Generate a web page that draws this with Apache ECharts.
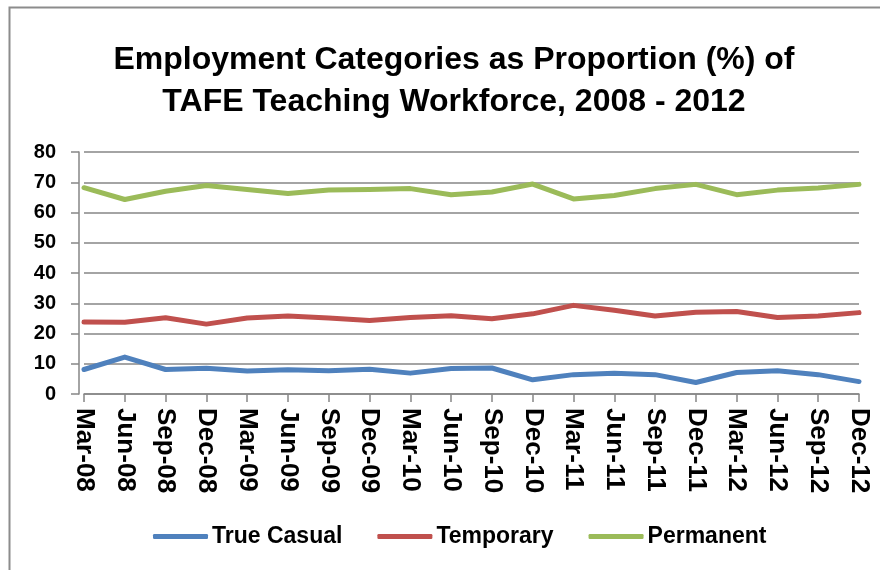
<!DOCTYPE html>
<html>
<head>
<meta charset="utf-8">
<script src="https://cdn.jsdelivr.net/npm/echarts@6/dist/echarts.min.js"></script>
<style>
  html, body { margin: 0; padding: 0; background: #fff; }
  #chart { width: 880px; height: 570px; }
</style>
</head>
<body>
<div id="chart"></div>
<script>
var quarters = ['Mar-08', 'Jun-08', 'Sep-08', 'Dec-08', 'Mar-09', 'Jun-09', 'Sep-09', 'Dec-09',
  'Mar-10', 'Jun-10', 'Sep-10', 'Dec-10', 'Mar-11', 'Jun-11', 'Sep-11', 'Dec-11',
  'Mar-12', 'Jun-12', 'Sep-12', 'Dec-12'];

var trueCasual = [8.1, 12.2, 8.1, 8.5, 7.6, 8.0, 7.7, 8.2, 6.9, 8.4, 8.6, 4.7, 6.4, 6.9, 6.4, 3.8, 7.1, 7.7, 6.4, 4.1];
var temporary = [23.8, 23.7, 25.2, 23.1, 25.1, 25.8, 25.1, 24.3, 25.3, 25.9, 24.9, 26.5, 29.3, 27.7, 25.8, 27.0, 27.3, 25.3, 25.8, 26.9];
var permanent = [68.2, 64.3, 67.0, 68.9, 67.6, 66.3, 67.4, 67.6, 67.9, 65.9, 66.8, 69.4, 64.5, 65.6, 67.9, 69.3, 65.9, 67.4, 68.1, 69.3];

var font = '"Liberation Sans", Arial, sans-serif';
var gridColor = '#868686';

var chart = echarts.init(document.getElementById('chart'));
var option = {
  backgroundColor: '#fff',
  animation: false,
  textStyle: { fontFamily: font },
  title: {
    text: 'Employment Categories as Proportion (%) of\nTAFE Teaching Workforce, 2008 - 2012',
    left: 449,
    textAlign: 'center',
    top: 34,
    textStyle: { fontSize: 32, fontWeight: 'bold', color: '#000', lineHeight: 42, fontFamily: font }
  },
  graphic: [{
    type: 'polyline',
    shape: { points: [[9.5, 580], [9.5, 7.5], [890, 7.5]] },
    style: { stroke: '#8c8c8c', lineWidth: 2, fill: null }
  }],
  legend: {
    data: ['True Casual', 'Temporary', 'Permanent'],
    left: 148,
    top: 520,
    icon: 'roundRect',
    itemWidth: 55,
    itemHeight: 5,
    itemGap: 35,
    textStyle: { fontSize: 23, fontWeight: 'bold', color: '#000', padding: [0, 0, 0, -1] }
  },
  grid: { left: 84, right: 21, top: 152, bottom: 176 },
  xAxis: {
    type: 'category',
    boundaryGap: false,
    data: quarters,
    axisLine: { lineStyle: { color: gridColor, width: 1.5 } },
    axisTick: { length: 8, lineStyle: { color: gridColor, width: 1.5 } },
    axisLabel: { rotate: -90, margin: 14, fontSize: 26, fontWeight: 'bold', color: '#000', interval: 0 }
  },
  yAxis: {
    type: 'value',
    min: 0,
    max: 80,
    interval: 10,
    offset: 5,
    axisLine: { show: true, lineStyle: { color: gridColor, width: 1.5 } },
    axisTick: { show: true, length: 8, lineStyle: { color: gridColor, width: 1.5 } },
    axisLabel: { margin: 23, fontSize: 20, fontWeight: 'bold', color: '#000' },
    splitLine: { lineStyle: { color: gridColor, width: 1.5 } }
  },
  series: [
    {
      name: 'True Casual', type: 'line', data: trueCasual, symbol: 'none',
      itemStyle: { color: '#4F81BD' },
      lineStyle: { width: 5, color: '#4F81BD', cap: 'round', join: 'round' }
    },
    {
      name: 'Temporary', type: 'line', data: temporary, symbol: 'none',
      itemStyle: { color: '#C0504D' },
      lineStyle: { width: 5, color: '#C0504D', cap: 'round', join: 'round' }
    },
    {
      name: 'Permanent', type: 'line', data: permanent, symbol: 'none',
      itemStyle: { color: '#9BBB59' },
      lineStyle: { width: 5, color: '#9BBB59', cap: 'round', join: 'round' }
    }
  ]
};
chart.setOption(option);
window.addEventListener('resize', function () { chart.resize(); });
</script>
</body>
</html>
